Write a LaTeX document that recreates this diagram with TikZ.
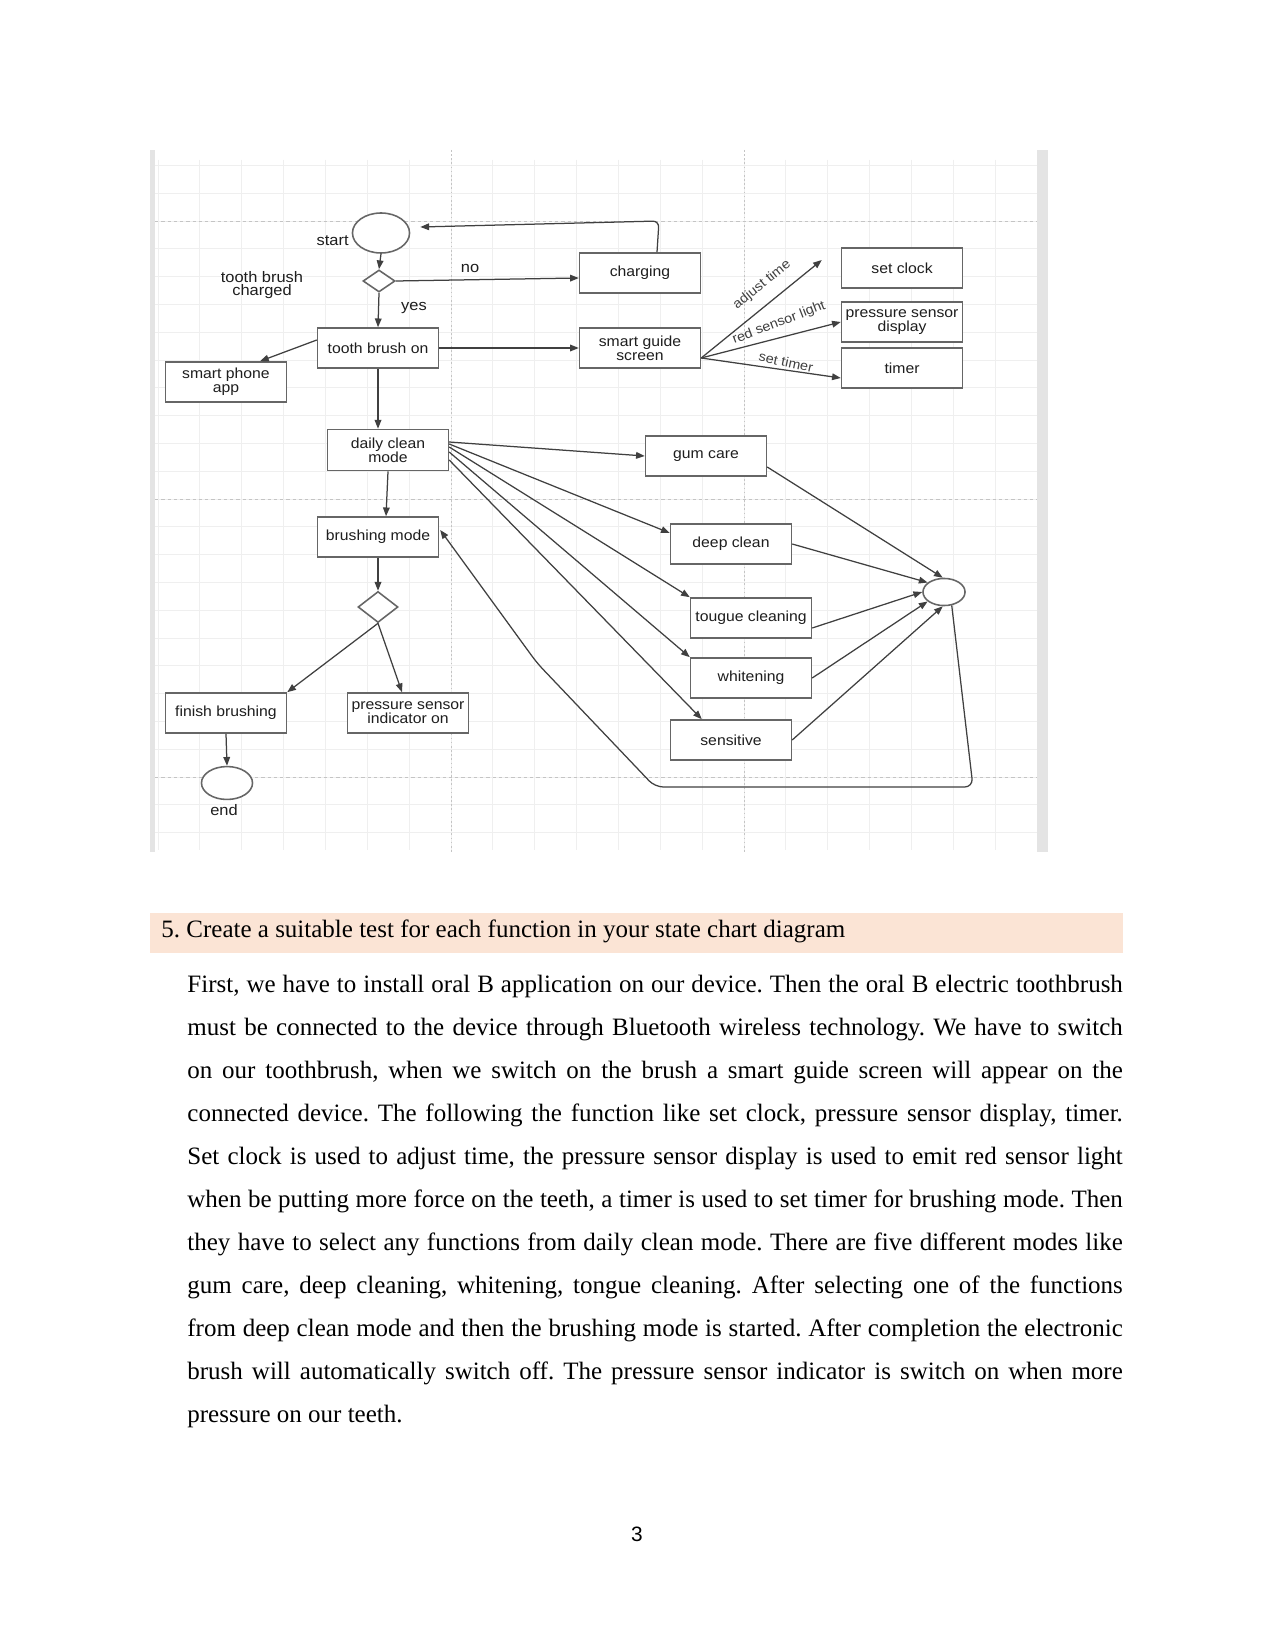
\documentclass[tikz,border=0pt]{standalone}
\usepackage{fontspec}
\setmainfont{Liberation Serif}
\newfontfamily\dgfont{Liberation Sans}[FakeStretch=1.08]
\newfontfamily\pgfont{Liberation Sans}
\usetikzlibrary{shapes.geometric,arrows.meta,calc}
\definecolor{boxgray}{HTML}{666666}
\definecolor{linegray}{HTML}{404040}
\definecolor{txt}{HTML}{1E1E1E}
\definecolor{gridminor}{HTML}{EFEFEF}
\definecolor{gridmajor}{HTML}{C4C4C4}
\definecolor{strip}{HTML}{E4E4E4}
\definecolor{headfill}{HTML}{FBE4D5}
\tikzset{
  box/.style={draw=boxgray, line width=0.75pt, fill=white, rectangle,
    minimum width=58pt, minimum height=19.2pt, inner sep=0.5pt, align=center,
    text=txt, font=\dgfont\fontsize{7}{6.6}\selectfont},
  ell/.style={draw=boxgray, line width=0.75pt, fill=white, ellipse, inner sep=0pt},
  dia/.style={draw=boxgray, line width=0.75pt, fill=white, diamond, inner sep=0pt},
  lbl/.style={inner sep=0pt, text=txt, align=center, font=\dgfont\fontsize{7.3}{6.6}\selectfont},
  elbl/.style={inner sep=0pt, text=linegray, font=\dgfont\fontsize{6.4}{6.6}\selectfont},
  arr/.style={draw=linegray, line width=0.6pt, -{Triangle[length=4.2pt,width=3.2pt]}},
  bodyline/.style={anchor=base west, inner sep=0pt, font=\fontsize{12}{14}\selectfont},
  minor/.style={draw=gridminor, line width=0.4pt},
  major/.style={draw=gridmajor, line width=0.4pt}
}
\frenchspacing
\begin{document}
\begin{tikzpicture}[x=0.48pt,y=-0.48pt]
\useasboundingbox[fill=white] (0,0) rectangle (1275,1650);
% screenshot background
\fill[white] (150,150) rectangle (1048,852);
\foreach \i in {-7,...,14} \draw[minor] ({451+41.86*\i},160) -- ({451+41.86*\i},850);
\foreach \j in {-2,...,22} \draw[minor] (155,{221+27.8*\j}) -- (1037,{221+27.8*\j});
\foreach \yy in {221,499,777} \draw[major, dash pattern=on 1.6pt off 1.4pt] (155,\yy) -- (1037,\yy);
\foreach \xx in {451,744} \draw[major, dash pattern=on 0.8pt off 1.2pt] (\xx,150) -- (\xx,852);
\fill[strip] (150,150) rectangle (155,852);
\fill[strip] (1037,150) rectangle (1048,852);

% nodes
\node[ell, minimum width=27.4pt, minimum height=19.2pt] (start) at (381,233) {};
\node[dia, minimum width=15.4pt, minimum height=10.6pt] (d1) at (379,281) {};
\node[box] (chg) at (640,273) {charging};
\node[box] (sgs) at (640,348) {smart guide\\screen};
\node[box] (clk) at (902,268) {set clock};
\node[box] (psd) at (902,322) {pressure sensor\\display};
\node[box] (tmr) at (902,368) {timer};
\node[box] (tbo) at (378,348) {tooth brush on};
\node[box] (spa) at (226,382) {smart phone\\app};
\node[box, minimum height=19.7pt] (dcm) at (388,450) {daily clean\\mode};
\node[box] (bm) at (378,537) {brushing mode};
\node[dia, minimum width=19.2pt, minimum height=14.9pt] (d2) at (378,607) {};
\node[box] (fb) at (226,713) {finish brushing};
\node[box] (psi) at (408,713) {pressure sensor\\indicator on};
\node[ell, minimum width=24.5pt, minimum height=15.8pt] (end) at (227,783) {};
\node[box] (gc) at (706,456) {gum care};
\node[box] (dc) at (731,544) {deep clean};
\node[box] (tc) at (751,618) {tougue cleaning};
\node[box] (wh) at (751,678) {whitening};
\node[box] (se) at (731,740) {sensitive};
\node[ell, minimum width=20.2pt, minimum height=13pt] (fc) at (944,592) {};

% labels
\node[lbl, anchor=east] (lstart) at (349,241) {start};
\node[lbl] (lcharged) at (262,285) {tooth brush\\charged};
\node[lbl] (lno) at (470,268) {no};
\node[lbl] (lyes) at (414,308) {yes};
\node[lbl] (lend) at (224,810) {end};
\node[elbl, rotate=39] (ladj) at (762,285) {adjust time};
\node[elbl, rotate=21] (lred) at (779,323) {red sensor light};
\node[elbl, rotate=-12] (ltim) at (786,362) {set timer};

% connectors
\draw[arr] (start.south) -- (d1.north);
\draw[arr] (d1.east) -- ($(chg.west)+(0,5)$);
\draw[arr, rounded corners=3pt] ($(chg.north)+(17,0)$) -- (659,221) -- ($(start.east)+(10,-6)$);
\draw[arr] (d1.south) -- (tbo.north);
\draw[arr] ($(tbo.west)+(0,-8)$) -- ($(spa.north)+(34,0)$);
\draw[arr] (tbo.east) -- (sgs.west);
\draw[arr] ($(sgs.east)+(0,10)$) -- ($(clk.west)+(-19,-8)$);
\draw[arr] ($(sgs.east)+(0,10)$) -- (psd.west);
\draw[arr] ($(sgs.east)+(0,10)$) -- ($(tmr.west)+(0,10)$);
\draw[arr] (tbo.south) -- (tbo.south |- dcm.north);
\draw[arr] (dcm.south) -- ($(bm.north)+(8,0)$);
\draw[arr] (bm.south) -- (d2.north);
\draw[arr] (d2.south) -- (fb.north east);
\draw[arr] (d2.south) -- ($(psi.north)+(-6,0)$);
\draw[arr] (fb.south) -- (end.north);
\draw[arr] ($(dcm.east)+(0,-8)$) -- (gc.west);
\draw[arr] ($(dcm.east)+(0,-6)$) -- ($(dc.west)+(0,-11)$);
\draw[arr] ($(dcm.east)+(0,-3)$) -- (tc.north west);
\draw[arr] ($(dcm.east)+(0,2)$) -- (wh.north west);
\draw[arr] ($(dcm.east)+(0,10)$) -- ($(se.north west)+(32,0)$);
\draw[arr] ($(gc.east)+(0,11)$) -- (fc.95);
\draw[arr] (dc.east) -- (fc.150);
\draw[arr] ($(tc.east)+(0,10)$) -- (fc.west);
\draw[arr] (wh.east) -- (fc.210);
\draw[arr] (se.east) -- (fc.265);
\draw[arr, rounded corners=4pt] (fc.-60) -- (973,787) -- (655,787) -- (537,663) -- ($(bm.east)+(1,-7)$);

% heading
\fill[headfill] (150,913) rectangle (1123,953);
\node[anchor=base west, inner sep=0pt, font=\fontsize{12}{14}\selectfont] (head) at (161,937)
  {5. Create a suitable test for each function in your state chart diagram};

% body text
\node[bodyline] (l1) at (187,992) {\makebox[449pt][s]{First, we have to install oral B application on our device. Then the oral B electric toothbrush}};
\node[bodyline] (l2) at (187,1035) {\makebox[449pt][s]{must be connected to the device through Bluetooth wireless technology. We have to switch}};
\node[bodyline] (l3) at (187,1078) {\makebox[449pt][s]{on our toothbrush, when we switch on the brush a smart guide screen will appear on the}};
\node[bodyline] (l4) at (187,1121) {\makebox[449pt][s]{connected device. The following the function like set clock, pressure sensor display, timer.}};
\node[bodyline] (l5) at (187,1164) {\makebox[449pt][s]{Set clock is used to adjust time, the pressure sensor display is used to emit red sensor light}};
\node[bodyline] (l6) at (187,1207) {\makebox[449pt][s]{when be putting more force on the teeth, a timer is used to set timer for brushing mode. Then}};
\node[bodyline] (l7) at (187,1250) {\makebox[449pt][s]{they have to select any functions from daily clean mode. There are five different modes like}};
\node[bodyline] (l8) at (187,1293) {\makebox[449pt][s]{gum care, deep cleaning, whitening, tongue cleaning. After selecting one of the functions}};
\node[bodyline] (l9) at (187,1336) {\makebox[449pt][s]{from deep clean mode and then the brushing mode is started. After completion the electronic}};
\node[bodyline] (l10) at (187,1379) {\makebox[449pt][s]{brush will automatically switch off. The pressure sensor indicator is switch on when more}};
\node[bodyline] (l11) at (187,1422) {pressure on our teeth.};

% page number
\node[anchor=base, inner sep=0pt, font=\pgfont\fontsize{10}{12}\selectfont] (pnum) at (637,1541) {3};
\end{tikzpicture}
\end{document}
